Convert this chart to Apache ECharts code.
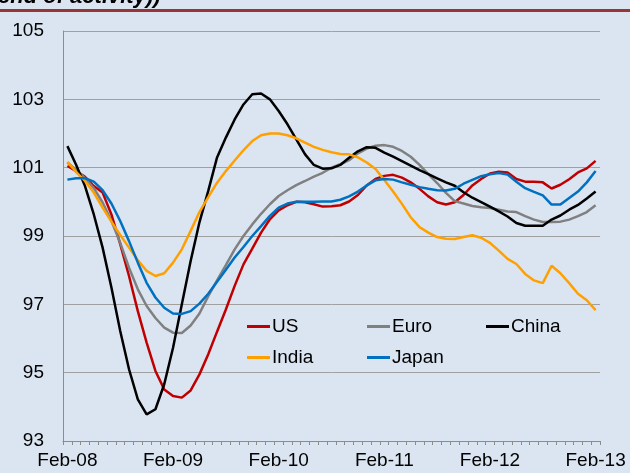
<!DOCTYPE html>
<html>
<head>
    <meta charset="UTF-8">
    <title>PMI</title>
    <script type="text/javascript" src="https://cdn.jsdelivr.net/npm/echarts@6.0.0/dist/echarts.min.js"></script>
</head>
<style>
    body {
        margin: 0;
        background: #dbe5f1;
    }
    .main {
        width: 630px;
        height: 473px;
    }
</style>
<body>
<div id="charts" class="main"></div>
<script type="text/javascript">
    // monthly, Feb-08 .. Feb-13
    var monthNames = ['Feb', 'Mar', 'Apr', 'May', 'Jun', 'Jul', 'Aug', 'Sep', 'Oct', 'Nov', 'Dec', 'Jan'];
    var years = ['08', '09', '10', '11', '12', '13'];
    var yTicks = [93, 95, 97, 99, 101, 103, 105];
    var seriesNames = ['US', 'Euro', 'China', 'India', 'Japan'];

    var us = [101.05, 100.9, 100.73, 100.46, 100.27, 99.63, 98.76, 97.83, 96.8, 95.88,
        95.05, 94.51, 94.32, 94.27, 94.48, 94.95, 95.54, 96.2, 96.85, 97.54,
        98.17, 98.63, 99.1, 99.49, 99.75, 99.9, 100.0, 99.99, 99.93, 99.86,
        99.87, 99.9, 100.01, 100.2, 100.48, 100.67, 100.76, 100.79, 100.71, 100.57,
        100.38, 100.16, 99.99, 99.92, 99.99, 100.2, 100.48, 100.67, 100.83, 100.88,
        100.86, 100.67, 100.59, 100.59, 100.57, 100.39, 100.5, 100.66, 100.86, 100.98,
        101.2];
    var euro = [101.15, 100.93, 100.69, 100.4, 99.98, 99.44, 98.8, 98.07, 97.44, 96.95,
        96.6, 96.32, 96.17, 96.16, 96.38, 96.73, 97.24, 97.7, 98.15, 98.61,
        99.0, 99.34, 99.65, 99.93, 100.17, 100.34, 100.49, 100.61, 100.74, 100.85,
        101.0, 101.1, 101.22, 101.42, 101.56, 101.64, 101.66, 101.61, 101.49, 101.32,
        101.08, 100.81, 100.55, 100.26, 100.02, 99.95, 99.88, 99.84, 99.82, 99.77,
        99.72, 99.7, 99.58, 99.48, 99.41, 99.41, 99.42, 99.48, 99.58, 99.7,
        99.9];
    var china = [101.63, 101.08, 100.46, 99.63, 98.66, 97.49, 96.22, 95.1, 94.22, 93.78,
        93.93, 94.66, 95.73, 97.0, 98.27, 99.4, 100.32, 101.3, 101.88, 102.41,
        102.85, 103.15, 103.17, 103.0, 102.66, 102.27, 101.83, 101.39, 101.08, 100.97,
        100.98, 101.08, 101.29, 101.48, 101.6, 101.58, 101.44, 101.32, 101.19, 101.06,
        100.93, 100.81, 100.69, 100.57, 100.47, 100.28, 100.12, 99.99, 99.86, 99.72,
        99.57, 99.38, 99.3, 99.3, 99.3, 99.48, 99.6, 99.77, 99.91, 100.1,
        100.3];
    var india = [101.17, 100.87, 100.61, 100.27, 99.83, 99.42, 99.03, 98.66, 98.29, 97.98,
        97.83, 97.91, 98.22, 98.61, 99.15, 99.7, 100.14, 100.56, 100.9, 101.21,
        101.51, 101.78, 101.95, 102.0, 102.0, 101.95, 101.86, 101.73, 101.61, 101.52,
        101.45, 101.4, 101.39, 101.3, 101.15, 100.96, 100.64, 100.3, 99.94, 99.55,
        99.26, 99.1, 98.97, 98.92, 98.91, 98.97, 99.02, 98.95, 98.8, 98.57,
        98.33, 98.18, 97.89, 97.7, 97.62, 98.13, 97.91, 97.62, 97.31, 97.12,
        96.83];
    var japan = [100.65, 100.69, 100.69, 100.59, 100.34, 99.95, 99.44, 98.85, 98.22, 97.63,
        97.2, 96.9, 96.73, 96.72, 96.8, 97.02, 97.31, 97.66, 98.01, 98.37,
        98.68, 99.0, 99.29, 99.59, 99.83, 99.95, 100.0, 100.0, 100.0, 100.01,
        100.01, 100.06, 100.16, 100.3, 100.48, 100.63, 100.67, 100.65, 100.57, 100.5,
        100.43, 100.38, 100.34, 100.33, 100.38, 100.53, 100.64, 100.75, 100.81, 100.84,
        100.8, 100.59, 100.4, 100.29, 100.19, 99.92, 99.92, 100.11, 100.3, 100.57,
        100.9];

    var months = [];
    for (var y = 0; y < years.length; y++) {
        for (var m = 0; m < 12; m++) {
            if (y === years.length - 1 && m > 0) break;
            var yr = (m === 11) ? years[y + 1] : years[y];
            months.push(monthNames[m] + '-' + yr);
        }
    }

    var colors = ['#c00000', '#808080', '#000000', '#ffa000', '#0070c0'];
    var values = [us, euro, china, india, japan];
    var font = 'Liberation Sans, Arial, sans-serif';

    // legend slots: [left, top]
    var legendPos = [[247, 317], [367, 317], [486, 317], [247, 348], [367, 348]];
    var legends = seriesNames.map(function (n, i) {
        return {
            data: [n],
            left: legendPos[i][0],
            top: legendPos[i][1],
            padding: 0,
            icon: 'rect',
            itemWidth: 23,
            itemHeight: 3,
            selectedMode: false,
            textStyle: {fontSize: 19, color: '#000', fontFamily: font, padding: [0, 0, 0, -3]}
        };
    });

    var chart = echarts.init(document.getElementById('charts'));
    var option = {
        backgroundColor: '#dbe5f1',
        animation: false,
        color: colors,
        grid: {left: 63, right: 30, top: 31, bottom: 32, containLabel: false, outerBoundsMode: 'none'},
        graphic: [
            {
                type: 'text', left: -2, top: -14,
                style: {text: 'end of activity))', fontSize: 22, fontWeight: 'bold', fontStyle: 'italic',
                    fontFamily: font, fill: '#000'}
            },
            {
                type: 'rect', shape: {x: 0, y: 9, width: 630, height: 3},
                style: {fill: '#993535'}
            }
        ],
        legend: legends,
        xAxis: {
            type: 'category',
            data: months,
            boundaryGap: true,
            axisLine: {lineStyle: {color: '#8c8c8c', width: 1}},
            axisTick: {show: true, interval: 0, length: 4, lineStyle: {color: '#8c8c8c'}},
            axisLabel: {interval: 11, fontSize: 19, color: '#000', fontFamily: font, margin: 10},
            splitLine: {show: false}
        },
        yAxis: {
            type: 'value',
            min: yTicks[0],
            max: yTicks[yTicks.length - 1],
            interval: 2,
            axisLine: {show: true, lineStyle: {color: '#8c8c8c', width: 1}},
            axisTick: {show: false},
            axisLabel: {fontSize: 19, color: '#000', fontFamily: font, margin: 19},
            splitLine: {lineStyle: {color: '#a0a0a0', width: 1}}
        },
        series: seriesNames.map(function (n, i) {
            return {
                name: n,
                type: 'line',
                data: values[i],
                showSymbol: false,
                smooth: false,
                lineStyle: {width: 2.5, color: colors[i]},
                itemStyle: {color: colors[i]}
            };
        })
    };
    chart.setOption(option);
</script>
</body>
</html>
